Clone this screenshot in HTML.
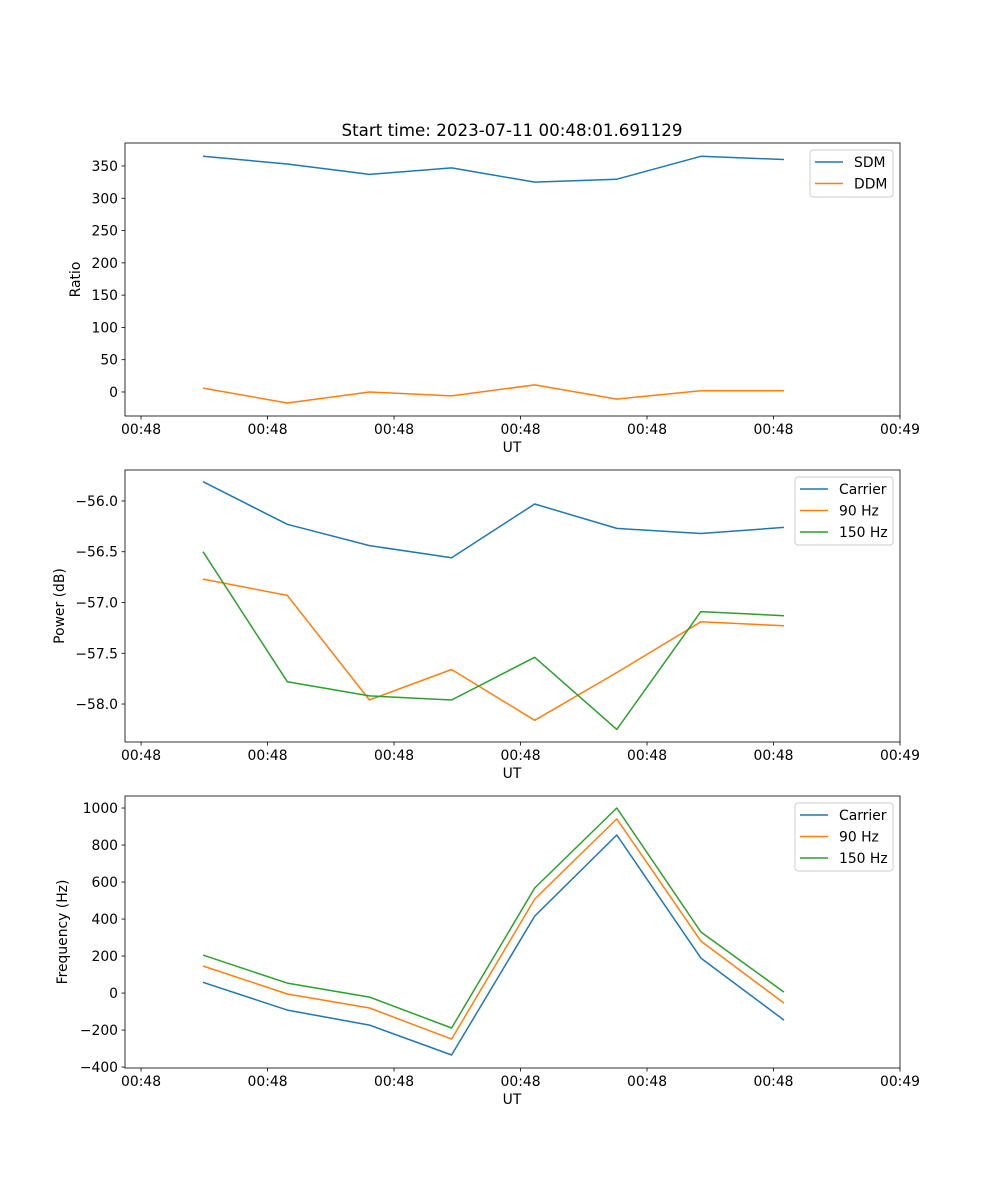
<!DOCTYPE html>
<html><head><meta charset="utf-8"><style>
body{margin:0;background:#fff}
svg{display:block;font-family:"DejaVu Sans","Liberation Sans",sans-serif}
</style></head><body>
<svg id="fig" width="1000" height="1200" viewBox="0 0 1000 1200">
<rect width="1000" height="1200" fill="#fff"/>
<text x="512" y="136" font-size="16.7" text-anchor="middle">Start time: 2023-07-11 00:48:01.691129</text>
</svg>
<script>
// shared data
const xTimes=[0.49,1.156,1.806,2.455,3.112,3.761,4.426,5.083];
const xTickVals=[0,1,2,3,4,5,6];
const xTickLabels=["00:48","00:48","00:48","00:48","00:48","00:48","00:49"];
// panel 1
const sdm=[365,353,337,347,325,329.5,365,360];
const ddm=[6,-17,0,-6,11,-11,2,2];
const p1Ticks=[0,50,100,150,200,250,300,350];
const p1TickLabels=["0","50","100","150","200","250","300","350"];
// panel 2
const pwrCarrier=[-55.81,-56.23,-56.44,-56.56,-56.03,-56.27,-56.32,-56.26];
const pwr90=[-56.77,-56.93,-57.96,-57.66,-58.16,-57.69,-57.19,-57.23];
const pwr150=[-56.50,-57.78,-57.92,-57.96,-57.54,-58.25,-57.09,-57.13];
const p2Ticks=[-58,-57.5,-57,-56.5,-56];
const p2TickLabels=["\u221258.0","\u221257.5","\u221257.0","\u221256.5","\u221256.0"];
// panel 3
const frqCarrier=[58,-92,-173,-335,416,854,189,-146];
const frq90=[146,-5,-81,-249,508,941,281,-54];
const frq150=[205,54,-22,-189,568,1000,330,5];
const p3Ticks=[-400,-200,0,200,400,600,800,1000];
const p3TickLabels=["\u2212400","\u2212200","0","200","400","600","800","1000"];

const NS="http://www.w3.org/2000/svg";
const svg=document.getElementById('fig');
function mk(tag,attrs,parent){const e=document.createElementNS(NS,tag);for(const k in attrs)e.setAttribute(k,attrs[k]);(parent||svg).appendChild(e);return e;}
const L=125,R=900;
const xMin=-0.127,xMax=6.0;
function xs(v){return L+(v-xMin)/(xMax-xMin)*(R-L);}
const C={b:'#1f77b4',o:'#ff7f0e',g:'#2ca02c'};

function panel(id,top,bot,yMin,yMax,ticks,tlabels,ylabel,series,legend){
  const g=mk('g',{});
  
  
  const ys=v=>bot-(v-yMin)/(yMax-yMin)*(bot-top);
  series.forEach(s=>{
    const pts=s.vals.map((v,i)=>xs(xTimes[i]).toFixed(1)+','+ys(v).toFixed(1)).join(' ');
    const pl=mk('polyline',{points:pts,fill:'none',stroke:s.color,'stroke-width':1.5,'stroke-linejoin':'round'},g);
    
    
  });
  const fr=mk('rect',{x:L,y:top,width:R-L,height:bot-top,fill:'none',stroke:'#000','stroke-width':0.8},g);
  
  
  xTickVals.forEach((v,i)=>{
    const x=xs(v);
    mk('line',{x1:x,x2:x,y1:bot,y2:bot+3.5,stroke:'#000','stroke-width':0.8},g);
    const t=mk('text',{x:x,y:bot+18,'font-size':13.9,'text-anchor':'middle'},g);
    t.textContent=xTickLabels[i];
    
    
  });
  const xl=mk('text',{x:512,y:bot+36,'font-size':13.9,'text-anchor':'middle'},g);
  xl.textContent='UT';
  
  
  ticks.forEach((v,i)=>{
    const y=ys(v);
    mk('line',{x1:L-3.5,x2:L,y1:y,y2:y,stroke:'#000','stroke-width':0.8},g);
    const t=mk('text',{x:L-7,y:y+5,'font-size':13.9,'text-anchor':'end'},g);
    t.textContent=tlabels[i];
    
    
  });
  const ylx=legend.ylx, ylc=(top+bot)/2;
  const yl=mk('text',{x:ylx,y:ylc,'font-size':13.9,'text-anchor':'middle',transform:'rotate(-90 '+ylx+' '+ylc+')'},g);
  yl.textContent=ylabel;
  
  
  // legend
  const lg=mk('g',{},g);
  
  
  const lh=5+series.length*21;
  mk('rect',{x:legend.x,y:top+7,width:R-7-legend.x,height:lh,rx:3,fill:'#fff','fill-opacity':0.8,stroke:'#ccc','stroke-width':1},lg);
  series.forEach((s,i)=>{
    const y=top+7+12+i*21.5;
    mk('line',{x1:legend.x+5,x2:legend.x+33,y1:y,y2:y,stroke:s.color,'stroke-width':1.5},lg);
    const t=mk('text',{x:legend.x+44,y:y+5,'font-size':13.9},lg);
    t.textContent=s.name;
    
    
  });
}
panel('ratio',143,416,-37.2,385.6,p1Ticks,p1TickLabels,'Ratio',
  [{key:'sdm',name:'SDM',vals:sdm,color:C.b},{key:'ddm',name:'DDM',vals:ddm,color:C.o}],{x:810,ylx:80});
panel('power',470,742,-58.374,-55.695,p2Ticks,p2TickLabels,'Power (dB)',
  [{key:'carrier',name:'Carrier',vals:pwrCarrier,color:C.b},{key:'90hz',name:'90 Hz',vals:pwr90,color:C.o},{key:'150hz',name:'150 Hz',vals:pwr150,color:C.g}],{x:795,ylx:64});
panel('frequency',796,1068,-405,1065,p3Ticks,p3TickLabels,'Frequency (Hz)',
  [{key:'carrier',name:'Carrier',vals:frqCarrier,color:C.b},{key:'90hz',name:'90 Hz',vals:frq90,color:C.o},{key:'150hz',name:'150 Hz',vals:frq150,color:C.g}],{x:795,ylx:67});
</script>
</body></html>
